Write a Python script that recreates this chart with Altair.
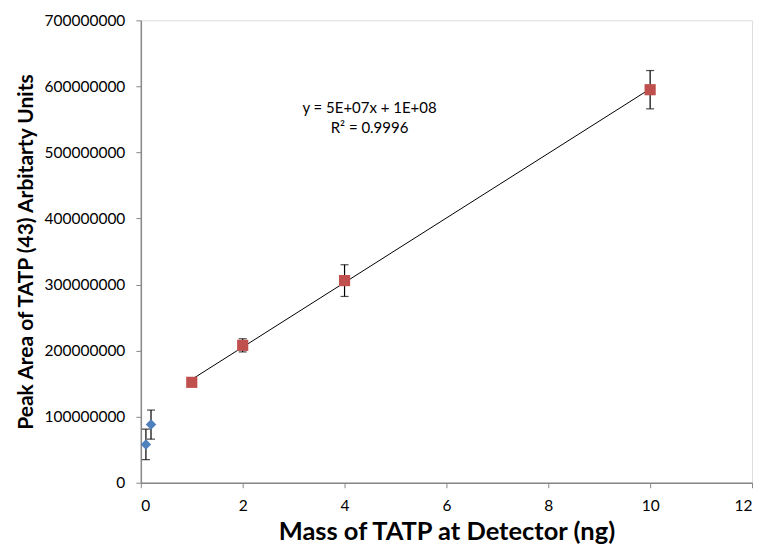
import altair as alt
import pandas as pd

# Data
blue_x = [0.1, 0.2]
blue_y = [58000000, 88000000]
blue_err = [23000000, 22000000]

red_x = [1, 2, 4, 10]
red_y = [152000000, 208000000, 306000000, 595000000]
red_err = [5000000, 10000000, 24000000, 29000000]

eq_text = ["y = 5E+07x + 1E+08", "R² = 0.9996"]
eq_x = [4.49, 4.49]
eq_y = [567000000, 537000000]

FONT = "Lato"

blue = pd.DataFrame({"x": blue_x, "y": blue_y, "err": blue_err})
blue["lo"] = blue["y"] - blue["err"]
blue["hi"] = blue["y"] + blue["err"]
red = pd.DataFrame({"x": red_x, "y": red_y, "err": red_err})
red["lo"] = red["y"] - red["err"]
red["hi"] = red["y"] + red["err"]
allpts = pd.concat([blue, red], ignore_index=True)

xs = alt.Scale(domain=[0, 12], nice=False)
ys = alt.Scale(domain=[0, 700000000], nice=False)

xax = alt.Axis(values=list(range(0, 13, 2)), title="Mass of TATP at Detector (ng)",
               titleFontSize=25.5, titleFont=FONT, titleFontWeight="bold", titleColor="black",
               labelFont=FONT, labelFontSize=15.5, labelColor="black", grid=False,
               domainColor="#888888", domainWidth=1.5, tickColor="#888888", tickSize=5,
               labelPadding=11, titlePadding=5)
yax = alt.Axis(values=list(range(0, 700000001, 100000000)), format="d",
               title="Peak Area of TATP (43) Arbitarty Units",
               titleFontSize=21, titleFont=FONT, titleFontWeight="bold", titleColor="black",
               labelFont=FONT, labelFontSize=15.5, labelColor="black", grid=False,
               domainColor="#888888", domainWidth=1.5, tickColor="#888888", tickSize=5,
               labelPadding=11, titlePadding=8)

base = alt.Chart(allpts)

rules = base.mark_rule(color="black", strokeWidth=1.2).encode(
    x=alt.X("x:Q", scale=xs, axis=xax), y=alt.Y("lo:Q", scale=ys, axis=yax), y2="hi:Q")
cap_lo = base.mark_tick(color="black", size=8, thickness=1.2, orient="horizontal").encode(
    x=alt.X("x:Q", scale=xs), y=alt.Y("lo:Q", scale=ys))
cap_hi = base.mark_tick(color="black", size=8, thickness=1.2, orient="horizontal").encode(
    x=alt.X("x:Q", scale=xs), y=alt.Y("hi:Q", scale=ys))

trend = alt.Chart(red).transform_regression("x", "y", extent=[1, 10]).mark_line(
    color="black", strokeWidth=1).encode(x=alt.X("x:Q", scale=xs), y=alt.Y("y:Q", scale=ys))

blue_pts = alt.Chart(blue).mark_point(shape="diamond", filled=True, color="#4F81BD",
                                      size=110, opacity=1).encode(
    x=alt.X("x:Q", scale=xs), y=alt.Y("y:Q", scale=ys))
red_pts = alt.Chart(red).mark_point(shape="square", filled=True, color="#C0504D",
                                    size=125, opacity=1).encode(
    x=alt.X("x:Q", scale=xs), y=alt.Y("y:Q", scale=ys))

ann = pd.DataFrame({"x": eq_x, "y": eq_y, "t": eq_text})
text = alt.Chart(ann).mark_text(font=FONT, fontSize=15, color="black", align="center").encode(
    x=alt.X("x:Q", scale=xs), y=alt.Y("y:Q", scale=ys), text="t:N")

chart = alt.layer(rules, cap_lo, cap_hi, trend, blue_pts, red_pts, text).properties(
    width=612, height=463,
    autosize=alt.AutoSizeParams(type="none"),
    padding={"left": 133, "top": 12, "right": 5, "bottom": 64},
).configure_view(stroke="black", strokeWidth=1).configure(background="white")

chart.save("out.html", embed_options={"renderer": "svg", "actions": False})
